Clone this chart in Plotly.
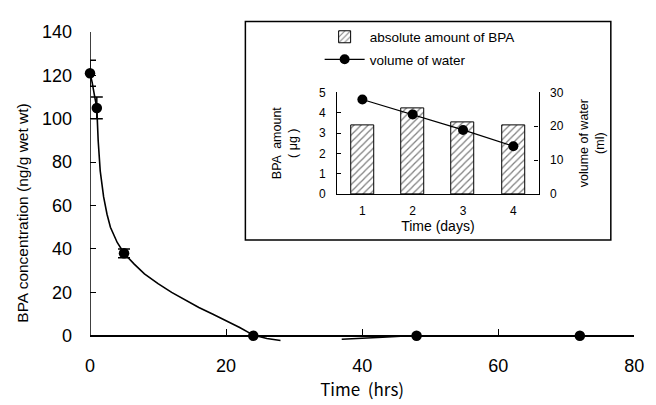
import plotly.graph_objects as go

# ---- main data (hrs vs BPA concentration) ----
time_hrs = [0, 1, 5, 24, 48, 72]
conc = [121, 105, 38, 0, 0, 0]
conc_err = [6, 5, 2, 0, 0, 0]

# fitted curve as drawn
curve_x = [0, 0.3, 0.7, 1.0, 1.2, 1.5, 2.0, 2.5, 3.0, 4.0, 5.0, 6.5, 8.0, 10, 12, 14, 16, 18, 20, 22, 24, 26, 28,
           None, 37, 40, 43, 45, 47]
curve_y = [121, 117, 110, 105, 90, 76, 64, 56, 50, 43, 38, 33, 28.5, 24, 20, 16.5, 13, 10, 7, 3.8, 0.3, -1.3, -2.2,
           None, -1.6, -1.3, -0.7, -0.3, 0]

# ---- inset data ----
days = [1, 2, 3, 4]
bpa_amount = [3.4, 4.23, 3.52, 3.39]
water_vol = [27.9, 23.5, 18.9, 14.1]

FONT = "Liberation Sans"
W, H = 656, 405


def px(x):
    return x / W


def py(y):
    return 1 - y / H


fig = go.Figure()

fig.add_trace(go.Scatter(x=curve_x, y=curve_y, mode="lines", line=dict(color="black", width=1.6),
                         showlegend=False, xaxis="x", yaxis="y", hoverinfo="skip"))
fig.add_trace(go.Scatter(x=time_hrs, y=conc, mode="markers",
                         marker=dict(color="black", size=10.5),
                         error_y=dict(type="data", array=conc_err, color="black", thickness=1.5, width=6),
                         showlegend=False, xaxis="x", yaxis="y", cliponaxis=False))

# inset
fig.add_trace(go.Bar(x=days, y=bpa_amount, name="absolute amount of BPA", width=0.46, legendgroup="a",
                     marker=dict(color="white", line=dict(color="black", width=1),
                                 pattern=dict(shape="/", fgcolor="black", bgcolor="white", size=5, solidity=0.25)),
                     xaxis="x2", yaxis="y2"))
fig.add_trace(go.Scatter(x=days, y=water_vol, name="volume of water", mode="lines+markers", legendgroup="b",
                         line=dict(color="black", width=1.3), marker=dict(color="black", size=10),
                         xaxis="x2", yaxis="y3"))

ymin, ymax = -3, 140
ppu = (340 - 23) / 140
ydom = [py(340 + 3 * ppu), py(23)]
x_pos = py(340)

fig.update_layout(
    width=W, height=H,
    margin=dict(l=0, r=0, t=0, b=0),
    paper_bgcolor="white", plot_bgcolor="rgba(0,0,0,0)",
    font=dict(family=FONT, color="black", size=16),
    xaxis=dict(domain=[px(87), px(644)], range=[0, 80], anchor="free", position=x_pos,
               tickvals=[0, 20, 40, 60, 80], ticks="inside", ticklen=6, tickwidth=1.2, tickcolor="black",
               showline=True, linecolor="black", linewidth=1.5, showgrid=False, zeroline=False,
               tickfont=dict(size=18), ticklabelstandoff=14,
               title=dict(text="Time  (hrs)", font=dict(size=17, family="Noto Sans CJK JP"), standoff=2)),
    yaxis=dict(domain=ydom, range=[ymin, ymax], anchor="x",
               tickvals=[0, 20, 40, 60, 80, 100, 120, 140], ticks="inside", ticklen=6, tickwidth=1.2,
               tickcolor="black", showline=False, showgrid=False, zeroline=False,
               tickfont=dict(size=18), ticklabelstandoff=17),
    xaxis2=dict(domain=[px(340), px(546)], range=[0.5, 4.5], anchor="y2",
                tickvals=days, ticks="", showline=True, linecolor="black", linewidth=1.2,
                showgrid=False, zeroline=False, tickfont=dict(size=12), ticklabelstandoff=6,
                title=dict(text="Time (days)", font=dict(size=14), standoff=2)),
    yaxis2=dict(domain=[py(192), py(86)], range=[0, 5], anchor="x2",
                tickvals=[0, 1, 2, 3, 4, 5], ticks="inside", ticklen=4, tickcolor="black",
                showline=True, linecolor="black", linewidth=1.2, showgrid=False, zeroline=False,
                tickfont=dict(size=12), ticklabelstandoff=8,
                title=dict(text="BPA  amount<br>( μg )", font=dict(size=12.5), standoff=18)),
    yaxis3=dict(domain=[py(192), py(86)], range=[0, 30], anchor="x2", overlaying="y2", side="right",
                tickvals=[0, 10, 20, 30], ticks="inside", ticklen=4, tickcolor="black",
                showline=True, linecolor="black", linewidth=1.2, showgrid=False, zeroline=False,
                tickfont=dict(size=12), ticklabelstandoff=8,
                title=dict(text="volume of water<br>(ml)", font=dict(size=12.5), standoff=16)),
    legend=dict(x=px(322), y=py(12), xanchor="left", yanchor="top", bgcolor="rgba(0,0,0,0)",
                font=dict(size=13.5), itemwidth=40, traceorder="grouped", tracegroupgap=2),
    bargap=0,
    annotations=[
        dict(text="BPA concentration (ng/g wet wt)", xref="paper", yref="paper", x=px(18), y=py(212),
             xanchor="center", yanchor="middle", textangle=-90, showarrow=False, font=dict(size=15.5)),
    ],
    shapes=[
        dict(type="rect", xref="paper", yref="paper", x0=px(246), x1=px(620), y0=py(240), y1=py(12),
             line=dict(color="black", width=1.5), fillcolor="white", layer="below"),
        dict(type="line", xref="x", yref="y", x0=0, x1=0, y0=0, y1=140,
             line=dict(color="black", width=1.5), layer="above"),
    ],
)

fig.write_html("out.html")
